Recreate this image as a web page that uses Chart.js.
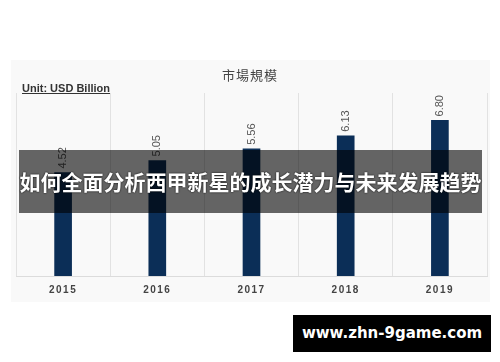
<!DOCTYPE html>
<html>
<head>
<meta charset="utf-8">
<script src="https://cdn.jsdelivr.net/npm/chart.js@4"></script>
<style>
  body { margin: 0; width: 500px; height: 362px; background: #fff; position: relative; overflow: hidden; font-family: Arial, "Liberation Sans", sans-serif; }
  #panel { position: absolute; left: 11px; top: 60px; width: 479px; height: 242px; background: #f9f9f9; }
  #chart { position: absolute; left: 0; top: 0; }
  #title { position: absolute; left: 0; width: 500px; top: 65px; text-align: center; font: 13px "Noto Sans CJK TC", sans-serif; color: #444; letter-spacing: 1px; }
  #unit { position: absolute; left: 22px; top: 82px; font: bold 11px Arial, "Liberation Sans", sans-serif; color: #333; text-decoration: underline; }
  #band { position: absolute; left: 19px; top: 150px; width: 463px; height: 63px; background: rgba(0,0,0,0.6);
          color: #fff; font: bold 21px "Noto Sans CJK SC", sans-serif; line-height: 63px; text-align: center; white-space: nowrap; text-shadow: 0 0 2px #000; }
  #mark { position: absolute; left: 293px; top: 315px; width: 198px; height: 37px; background: #000; color: #fff;
          font: bold 15px "DejaVu Sans", sans-serif; line-height: 37px; text-align: center; }
</style>
</head>
<body>
<div id="panel"></div>
<canvas id="chart" width="500" height="362"></canvas>
<div id="title">市場規模</div>
<div id="unit">Unit: USD Billion</div>
<div id="band">如何全面分析西甲新星的成长潜力与未来发展趋势</div>
<div id="mark">www.zhn-9game.com</div>
<script>
const years = ['2015', '2016', '2017', '2018', '2019'];
const marketSize = [4.52, 5.05, 5.56, 6.13, 6.80];

const barLabels = {
  id: 'barLabels',
  beforeDraw(chart) {
    chart.ctx.letterSpacing = '1.5px';
  },
  afterDatasetsDraw(chart) {
    const ctx = chart.ctx;
    const meta = chart.getDatasetMeta(0);
    ctx.save();
    ctx.letterSpacing = '0px';
    ctx.font = '11px Arial, "Liberation Sans", sans-serif';
    ctx.fillStyle = '#555';
    ctx.textAlign = 'left';
    ctx.textBaseline = 'middle';
    meta.data.forEach((bar, i) => {
      ctx.save();
      ctx.translate(bar.x, bar.y - 4);
      ctx.rotate(-Math.PI / 2);
      ctx.fillText(marketSize[i].toFixed(2), 0, 0);
      ctx.restore();
    });
    ctx.restore();
  },
};

const canvas = document.querySelector('#chart');
// eslint-disable-next-line no-undef
new Chart(canvas.getContext('2d'), {
  type: 'bar',
  data: {
    labels: years,
    datasets: [{
      data: marketSize,
      backgroundColor: '#0b2e57',
      barThickness: 17,
    }],
  },
  options: {
    responsive: false,
    animation: false,
    layout: { padding: { left: 16, right: 13, top: 93, bottom: 62 } },
    plugins: { legend: { display: false }, tooltip: { enabled: false }, title: { display: false } },
    scales: {
      x: {
        afterFit: (s) => { s.height = 24; },
        grid: { color: '#e2e2e2', drawTicks: false, offset: true },
        border: { color: '#dcdcdc' },
        ticks: { color: '#444', padding: 8, font: { size: 10, weight: 'bold', family: 'Arial, "Liberation Sans", sans-serif' } },
      },
      y: { display: false, min: 0, max: 8 },
    },
  },
  plugins: [barLabels],
});
</script>
</body>
</html>
